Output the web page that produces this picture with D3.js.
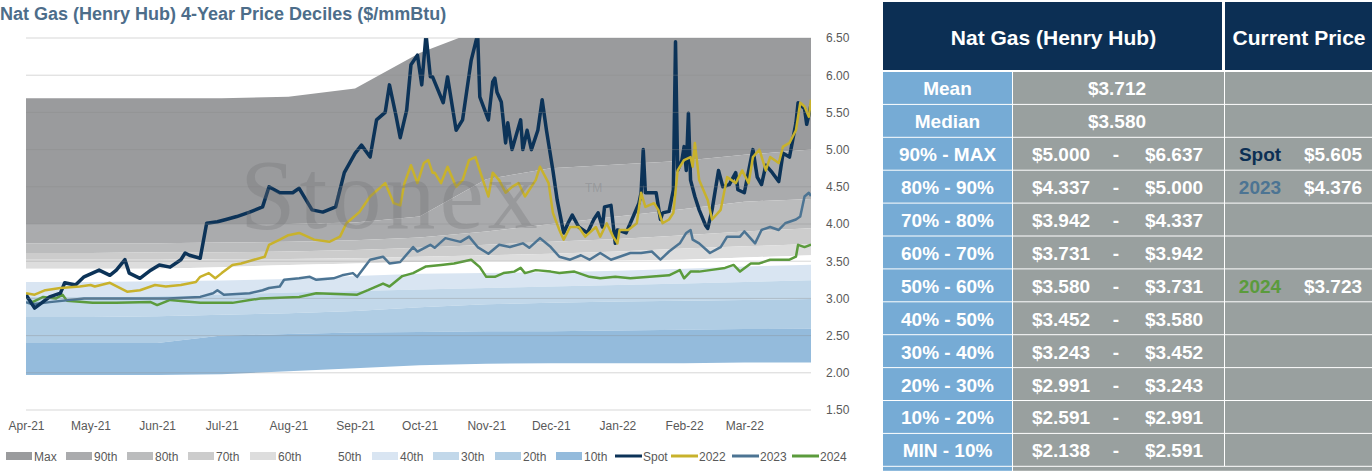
<!DOCTYPE html>
<html>
<head>
<meta charset="utf-8">
<script src="https://cdn.jsdelivr.net/npm/d3@7"></script>
<style>
  body { margin: 0; background: #fff; font-family: "Liberation Sans", Arial, sans-serif; }
  .tick text { font-family: "Liberation Sans", Arial, sans-serif; fill: #595959; }
</style>
</head>
<body>
<div id="chart"></div>
<script>
// ---- data ----
// decile band boundaries, monthly (day offset from 1 Apr 2021)
const bandDays = [0, 30, 61, 91, 122, 153, 183, 214, 244, 275, 306, 334, 365];
const pMax = [5.69, 5.69, 5.69, 5.69, 5.71, 5.82, 6.3, 6.64, 6.64, 6.64, 6.64, 6.64, 6.637];
const p90 = [4.0, 4.0, 4.0, 4.0, 4.0, 4.02, 4.1, 4.6, 4.75, 4.8, 4.85, 4.93, 5.0];
const p80 = [3.74, 3.74, 3.74, 3.75, 3.76, 3.78, 3.82, 3.9, 4.0, 4.1, 4.2, 4.3, 4.337];
const p70 = [3.61, 3.61, 3.62, 3.62, 3.63, 3.65, 3.68, 3.72, 3.76, 3.8, 3.85, 3.9, 3.942];
const p60 = [3.52, 3.52, 3.52, 3.53, 3.53, 3.54, 3.56, 3.58, 3.6, 3.63, 3.67, 3.7, 3.731];
const p50 = [3.40, 3.40, 3.40, 3.42, 3.45, 3.47, 3.49, 3.5, 3.5, 3.51, 3.52, 3.55, 3.58];
const p40 = [3.22, 3.22, 3.23, 3.24, 3.26, 3.3, 3.33, 3.34, 3.35, 3.37, 3.4, 3.43, 3.452];
const p30 = [3.02, 3.02, 3.03, 3.05, 3.08, 3.1, 3.12, 3.14, 3.16, 3.18, 3.2, 3.22, 3.243];
const p20 = [2.75, 2.75, 2.76, 2.78, 2.8, 2.83, 2.88, 2.92, 2.94, 2.96, 2.97, 2.98, 2.991];
const p10 = [2.4, 2.4, 2.4, 2.5, 2.52, 2.54, 2.55, 2.56, 2.56, 2.57, 2.58, 2.59, 2.591];
const pMin = [1.97, 1.97, 1.97, 1.98, 2.02, 2.06, 2.1, 2.12, 2.13, 2.13, 2.13, 2.14, 2.138];

// price series as [day offset, price]
const spot = [[0,3.05],[4,2.87],[11,3.02],[16,3.07],[18,3.21],[23,3.18],[27,3.29],[34,3.38],[39,3.31],[42,3.38],[46,3.52],[48,3.34],[53,3.27],[58,3.38],[62,3.45],[67,3.42],[72,3.52],[74,3.61],[76,3.58],[81,3.54],[84,4.01],[89,4.03],[93,4.06],[98,4.1],[104,4.16],[110,4.23],[113,4.5],[118,4.42],[124,4.42],[127,4.48],[133,4.19],[138,4.16],[144,4.23],[148,4.69],[153,4.95],[156,5.06],[160,4.9],[163,5.4],[167,5.5],[169,5.87],[172,5.46],[174,5.16],[177,5.53],[179,6.14],[182,6.27],[184,5.87],[186,6.55],[188,5.98],[189,5.98],[194,5.63],[196,5.98],[200,5.26],[203,5.4],[207,6.2],[210,6.55],[211,5.71],[215,5.4],[217,5.91],[218,5.96],[219,5.77],[221,5.64],[223,5.09],[224,5.36],[226,5.0],[230,5.4],[231,5.0],[233,5.26],[235,5.0],[238,5.26],[240,5.67],[242,5.26],[245,4.72],[247,4.32],[250,3.88],[252,4.01],[254,4.12],[257,3.96],[261,3.88],[264,4.06],[266,4.15],[268,3.96],[269,4.23],[272,4.25],[274,3.74],[275,3.92],[279,3.88],[281,4.01],[285,4.28],[286,4.42],[287,5.0],[288,4.42],[293,4.42],[295,4.06],[296,4.15],[299,4.17],[301,4.46],[302,6.45],[303,4.72],[305,4.86],[306,5.04],[307,4.72],[308,5.49],[309,4.59],[311,4.37],[313,4.19],[316,3.98],[317,3.94],[319,4.19],[322,4.72],[324,4.5],[327,4.53],[330,4.69],[331,4.46],[334,4.42],[337,4.86],[338,5.0],[340,4.63],[342,4.53],[344,4.79],[347,4.69],[350,4.57],[352,4.95],[355,4.9],[358,5.36],[359,5.63],[362,5.55],[363,5.34],[365,5.6]];
const y2022 = [[0,3.07],[4,3.05],[9,3.11],[16,3.14],[25,3.16],[30,3.18],[32,3.16],[39,3.21],[47,3.09],[53,3.11],[60,3.18],[65,3.16],[72,3.18],[79,3.22],[81,3.29],[85,3.34],[88,3.27],[91,3.34],[96,3.45],[100,3.47],[106,3.52],[111,3.56],[113,3.72],[118,3.79],[122,3.85],[127,3.88],[134,3.79],[141,3.76],[146,3.83],[149,4.01],[155,4.16],[160,4.37],[167,4.55],[171,4.28],[174,4.25],[176,4.55],[179,4.79],[182,4.55],[185,4.82],[187,4.86],[189,4.69],[190,4.69],[193,4.55],[196,4.77],[200,4.5],[203,4.59],[206,4.86],[209,4.9],[212,4.63],[215,4.37],[217,4.69],[220,4.59],[223,4.42],[226,4.5],[229,4.55],[232,4.37],[237,4.59],[239,4.77],[243,4.55],[245,4.15],[248,3.92],[250,3.79],[253,3.96],[257,3.96],[260,3.83],[265,3.96],[267,3.83],[270,4.01],[273,3.83],[275,3.74],[276,3.92],[280,3.92],[284,4.01],[286,4.42],[288,4.23],[292,4.28],[294,4.19],[296,4.01],[299,4.06],[301,4.15],[303,4.72],[306,4.86],[309,4.9],[310,4.77],[311,5.09],[313,4.59],[317,4.32],[319,4.06],[323,4.19],[326,4.63],[330,4.55],[333,4.72],[336,4.55],[338,4.9],[341,5.0],[344,4.72],[346,4.9],[350,4.82],[352,5.04],[355,5.09],[358,5.26],[360,5.63],[362,5.58],[364,5.44],[365,5.67]];
const y2023 = [[0,2.95],[3,2.92],[11,2.95],[27,3.0],[50,3.0],[66,3.0],[81,3.02],[87,3.07],[89,3.11],[92,3.05],[104,3.07],[110,3.11],[113,3.14],[118,3.16],[120,3.25],[127,3.27],[132,3.29],[135,3.25],[143,3.27],[147,3.31],[152,3.34],[154,3.29],[160,3.52],[166,3.56],[169,3.47],[174,3.49],[180,3.69],[182,3.63],[188,3.72],[190,3.68],[195,3.81],[202,3.76],[206,3.83],[210,3.69],[215,3.6],[220,3.72],[225,3.69],[231,3.74],[234,3.68],[239,3.81],[244,3.69],[248,3.56],[253,3.52],[258,3.58],[262,3.52],[267,3.61],[272,3.52],[276,3.56],[281,3.61],[286,3.61],[291,3.63],[295,3.52],[299,3.63],[304,3.74],[307,3.88],[309,3.92],[310,3.79],[313,3.74],[318,3.61],[323,3.69],[326,3.83],[332,3.83],[334,3.9],[339,3.74],[342,3.92],[346,3.96],[350,3.92],[353,4.01],[358,4.06],[360,4.1],[362,4.37],[364,4.42],[365,4.376]];
const y2024 = [[0,3.02],[3,2.95],[8,3.02],[14,3.0],[17,3.05],[19,2.97],[31,2.94],[42,2.94],[58,2.95],[61,2.91],[67,2.98],[81,2.94],[96,2.94],[109,3.0],[127,3.02],[135,3.07],[154,3.05],[159,3.11],[166,3.2],[169,3.16],[175,3.3],[180,3.34],[186,3.43],[193,3.45],[199,3.47],[207,3.52],[211,3.42],[214,3.29],[218,3.29],[222,3.34],[227,3.36],[230,3.41],[232,3.34],[237,3.38],[244,3.36],[248,3.34],[255,3.36],[262,3.29],[267,3.27],[274,3.29],[281,3.27],[290,3.29],[299,3.31],[304,3.38],[306,3.27],[309,3.36],[313,3.36],[318,3.38],[325,3.41],[329,3.45],[332,3.36],[337,3.47],[341,3.47],[346,3.52],[351,3.52],[355,3.52],[358,3.56],[359,3.72],[362,3.69],[365,3.723]];

const yTicks = [1.5, 2.0, 2.5, 3.0, 3.5, 4.0, 4.5, 5.0, 5.5, 6.0, 6.5];
const monthLabels = ["Apr-21","May-21","Jun-21","Jul-21","Aug-21","Sep-21","Oct-21","Nov-21","Dec-21","Jan-22","Feb-22","Mar-22"];

const tableRows = [
  ["Mean", "$3.712", null, "", ""],
  ["Median", "$3.580", null, "", ""],
  ["90% - MAX", "$5.000", "$6.637", "Spot", "$5.605"],
  ["80% - 90%", "$4.337", "$5.000", "2023", "$4.376"],
  ["70% - 80%", "$3.942", "$4.337", "", ""],
  ["60% - 70%", "$3.731", "$3.942", "", ""],
  ["50% - 60%", "$3.580", "$3.731", "2024", "$3.723"],
  ["40% - 50%", "$3.452", "$3.580", "", ""],
  ["30% - 40%", "$3.243", "$3.452", "", ""],
  ["20% - 30%", "$2.991", "$3.243", "", ""],
  ["10% - 20%", "$2.591", "$2.991", "", ""],
  ["MIN - 10%", "$2.138", "$2.591", "", ""]
];

// ---- layout ----
const width = 1372, height = 471;
const margin = { top: 38, left: 26, right: 561, bottom: 61 };

const svg = d3.select("#chart").append("svg")
  .attr("width", width).attr("height", height);

const start = new Date(2021, 3, 1);
const toDate = d => d3.timeDay.offset(start, d);

const xScale = d3.scaleTime()
  .domain([start, new Date(2022, 3, 1)])
  .range([margin.left, width - margin.right]);
const yScale = d3.scaleLinear()
  .domain([1.5, 6.5])
  .range([height - margin.bottom, margin.top]);

svg.append("defs").append("clipPath").attr("id", "plotclip")
  .append("rect").attr("x", margin.left).attr("y", margin.top)
  .attr("width", xScale.range()[1] - margin.left).attr("height", yScale(1.5) - margin.top);

const plot = svg.append("g").attr("clip-path", "url(#plotclip)");

// decile bands, top to bottom
const bounds = [pMax, p90, p80, p70, p60, p50, p40, p30, p20, p10, pMin];
const bandColors = ["#9a9b9d", "#aaabad", "#bbbcbd", "#cccccc", "#dddddd", "#ffffff", "#d9e5f2", "#c2d8ea", "#b0cde4", "#94bbdc"];
const bandNames = ["Max", "90th", "80th", "70th", "60th", "50th", "40th", "30th", "20th", "10th"];

bandColors.forEach((c, i) => {
  const rows = bandDays.map((d, j) => ({ date: toDate(d), hi: bounds[i][j], lo: bounds[i + 1][j] }));
  plot.append("path").datum(rows)
    .attr("fill", c)
    .attr("d", d3.area()
      .x(d => xScale(d.date)).y0(d => yScale(d.lo)).y1(d => yScale(d.hi)));
});

// grid
svg.append("g").selectAll("line").data(yTicks).join("line")
  .attr("x1", margin.left).attr("x2", xScale.range()[1])
  .attr("y1", d => yScale(d)).attr("y2", d => yScale(d))
  .attr("stroke", "#8a8a8a").attr("stroke-opacity", 0.35).attr("stroke-width", 1);

// watermark
svg.append("text").attr("x", 240).attr("y", 228)
  .attr("font-family", "Liberation Serif, serif").attr("font-size", 100)
  .attr("fill", "#6f7275").attr("fill-opacity", 0.3).attr("letter-spacing", 4)
  .text("Stonex");
svg.append("text").attr("x", 585).attr("y", 192)
  .attr("font-family", "Liberation Sans, sans-serif").attr("font-size", 12)
  .attr("fill", "#6f7275").attr("fill-opacity", 0.3).text("TM");

// price lines
const series = [
  { name: "2024", data: y2024, color: "#5b9b3c", w: 2.5 },
  { name: "2023", data: y2023, color: "#4c7493", w: 2.5 },
  { name: "Spot", data: spot, color: "#0c3358", w: 3.5 },
  { name: "2022", data: y2022, color: "#c8b22c", w: 2.5 }
];
const line = d3.line().x(d => xScale(toDate(d[0]))).y(d => yScale(d[1]));
series.forEach(s => {
  plot.append("path").datum(s.data)
    .attr("fill", "none").attr("stroke", s.color)
    .attr("stroke-width", s.w).attr("stroke-linejoin", "round")
    .attr("d", line);
});

// axes
const yAxis = svg.append("g")
  .attr("transform", `translate(${xScale.range()[1] + 12},0)`)
  .call(d3.axisRight(yScale).tickValues(yTicks).tickFormat(d3.format(".2f")).tickSize(0));
yAxis.select(".domain").remove();
yAxis.selectAll("text").attr("font-size", 12);

const xAxis = svg.append("g")
  .attr("transform", `translate(0,${yScale(1.5) + 6})`)
  .call(d3.axisBottom(xScale)
    .tickValues(monthLabels.map((m, i) => d3.timeMonth.offset(start, i)))
    .tickFormat((d, i) => monthLabels[i]).tickSize(0));
xAxis.select(".domain").remove();
xAxis.selectAll("text").attr("font-size", 12).attr("dy", "0.9em");

// title
svg.append("text").attr("x", 0).attr("y", 20)
  .attr("font-family", "Liberation Sans, Arial, sans-serif")
  .attr("font-weight", "bold").attr("font-size", 18)
  .attr("fill", "#4d6d8a")
  .text("Nat Gas (Henry Hub) 4-Year Price Deciles ($/mmBtu)");

// legend
const legendItems = bandNames.map((n, i) => ({ name: n, color: bandColors[i], type: i === 5 ? "none" : "rect" }))
  .concat([{ name: "Spot", color: "#0c3358", type: "line" }, { name: "2022", color: "#c8b22c", type: "line" },
           { name: "2023", color: "#4c7493", type: "line" }, { name: "2024", color: "#5b9b3c", type: "line" }]);
const legendX = [6, 66, 127, 188, 250, 338, 372, 433, 495, 556, 615, 671, 732, 792];
const legend = svg.append("g").attr("transform", "translate(0,456)");
legendItems.forEach((it, i) => {
  const g = legend.append("g").attr("transform", `translate(${legendX[i]},0)`);
  let tx = 28;
  if (it.type === "rect") g.append("rect").attr("x", 0).attr("y", -4).attr("width", 26).attr("height", 8).attr("fill", it.color);
  else if (it.type === "line") g.append("line").attr("x1", 0).attr("x2", 27).attr("stroke", it.color).attr("stroke-width", 3);
  else tx = 0;
  g.append("text").attr("x", tx).attr("y", 4.5).attr("font-family", "Liberation Sans, sans-serif")
    .attr("font-size", 12).attr("fill", "#595959").text(it.name);
});

// ---- table ----
const tbl = svg.append("g").attr("font-family", "Liberation Sans, Arial, sans-serif")
  .attr("font-weight", "bold").attr("font-size", 19).attr("text-anchor", "middle");
const navy = "#0c2f54", blue = "#76abd5", grey = "#99a09f";
const c0 = 883, c1 = 1012, c2 = 1224, c3 = 1372;
tbl.append("rect").attr("x", c0).attr("y", 2).attr("width", c2 - c0 - 2).attr("height", 68).attr("fill", navy);
tbl.append("rect").attr("x", c2 + 1).attr("y", 2).attr("width", c3 - c2 - 1).attr("height", 68).attr("fill", navy);
tbl.append("text").attr("x", (c0 + c2) / 2).attr("y", 45).attr("font-size", 21).attr("fill", "#fff").text("Nat Gas (Henry Hub)");
tbl.append("text").attr("x", (c2 + c3) / 2 + 1).attr("y", 45).attr("font-size", 21).attr("fill", "#fff").text("Current Price");

const rowH = 32.9, row0 = 72;
const curColors = { "Spot": "#0c2f54", "2023": "#4c7493", "2024": "#5b9b3c" };
tableRows.forEach((r, i) => {
  const y = row0 + i * rowH;
  tbl.append("rect").attr("x", c0).attr("y", y).attr("width", c1 - c0).attr("height", rowH - 1).attr("fill", blue);
  tbl.append("rect").attr("x", c1 + 1).attr("y", y).attr("width", c2 - c1 - 1).attr("height", rowH - 1).attr("fill", grey);
  tbl.append("rect").attr("x", c2 + 1).attr("y", y).attr("width", c3 - c2 - 1).attr("height", rowH - 1).attr("fill", grey);
  const ty = y + rowH / 2 + 7;
  tbl.append("text").attr("x", (c0 + c1) / 2).attr("y", ty).attr("fill", "#fff").text(r[0]);
  if (r[2] === null) {
    tbl.append("text").attr("x", 1117).attr("y", ty).attr("fill", "#fff").text(r[1]);
  } else {
    tbl.append("text").attr("x", 1061).attr("y", ty).attr("fill", "#fff").text(r[1]);
    tbl.append("text").attr("x", 1116).attr("y", ty).attr("fill", "#fff").text("-");
    tbl.append("text").attr("x", 1174).attr("y", ty).attr("fill", "#fff").text(r[2]);
  }
  if (r[3]) {
    tbl.append("text").attr("x", 1260).attr("y", ty).attr("fill", curColors[r[3]]).text(r[3]);
    tbl.append("text").attr("x", 1333).attr("y", ty).attr("fill", "#fff").text(r[4]);
  }
});
tbl.append("rect").attr("x", c0).attr("y", row0 + 12 * rowH).attr("width", c1 - c0).attr("height", 4).attr("fill", blue);
tbl.append("rect").attr("x", c1 + 1).attr("y", row0 + 12 * rowH).attr("width", c3 - c1 - 1).attr("height", 4).attr("fill", grey);
</script>
</body>
</html>
